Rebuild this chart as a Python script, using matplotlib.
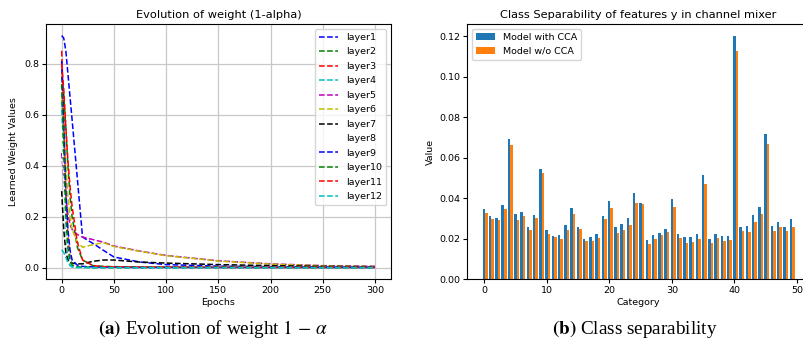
#!/usr/bin/env python3
"""Two-panel figure: weight evolution per layer and class separability bars."""

import matplotlib

matplotlib.use("Agg")
import matplotlib.pyplot as plt
import numpy as np

# ---- panel (a): learned weight (1-alpha) per layer ----
EPOCHS = [0, 2, 4, 6, 8, 10, 15, 20, 30, 40, 50, 75, 100, 150, 200, 250, 300]

LAYER1 = [0.91, 0.90, 0.85, 0.76, 0.67, 0.58, 0.35, 0.12, 0.095, 0.068, 0.042, 0.022, 0.012, 0.006, 0.004, 0.003, 0.003]
LAYER2 = [0.75, 0.68, 0.55, 0.40, 0.28, 0.20, 0.08, 0.03, 0.008, 0.005, 0.004, 0.003, 0.002, 0.002, 0.001, 0.001, 0.001]
LAYER3 = [0.85, 0.60, 0.30, 0.12, 0.04, 0.01, 0.003, 0.002, 0.001, 0.001, 0.001, 0.001, 0.001, 0.001, 0.001, 0.001, 0.001]
LAYER4 = [0.65, 0.40, 0.15, 0.05, 0.01, 0.003, 0.001, 0.001, 0.0, 0.0, 0.0, 0.0, 0.0, 0.0, 0.0, 0.0, 0.0]
LAYER5 = [0.45, 0.35, 0.27, 0.21, 0.17, 0.15, 0.13, 0.12, 0.11, 0.10, 0.085, 0.065, 0.048, 0.027, 0.015, 0.008, 0.005]
LAYER6 = [0.68, 0.55, 0.40, 0.28, 0.20, 0.15, 0.10, 0.08, 0.09, 0.098, 0.083, 0.064, 0.047, 0.026, 0.014, 0.007, 0.004]
LAYER7 = [0.30, 0.15, 0.06, 0.03, 0.02, 0.018, 0.015, 0.015, 0.025, 0.03, 0.03, 0.022, 0.018, 0.012, 0.008, 0.005, 0.004]
LAYER8 = [0.55, 0.35, 0.18, 0.08, 0.03, 0.01, 0.004, 0.002, 0.001, 0.001, 0.001, 0.001, 0.001, 0.001, 0.001, 0.001, 0.001]
LAYER9 = [0.81, 0.55, 0.30, 0.15, 0.07, 0.03, 0.01, 0.005, 0.003, 0.002, 0.002, 0.001, 0.001, 0.001, 0.001, 0.001, 0.001]
LAYER10 = [0.72, 0.45, 0.20, 0.08, 0.03, 0.01, 0.003, 0.002, 0.001, 0.001, 0.001, 0.001, 0.001, 0.001, 0.001, 0.001, 0.001]
LAYER11 = [0.80, 0.70, 0.55, 0.42, 0.32, 0.24, 0.10, 0.03, 0.008, 0.004, 0.003, 0.002, 0.002, 0.001, 0.001, 0.001, 0.001]
LAYER12 = [0.07, 0.06, 0.04, 0.02, 0.008, 0.003, 0.001, 0.001, 0.0, 0.0, 0.0, 0.0, 0.0, 0.0, 0.0, 0.0, 0.0]

LAYERS = [LAYER1, LAYER2, LAYER3, LAYER4, LAYER5, LAYER6,
          LAYER7, LAYER8, LAYER9, LAYER10, LAYER11, LAYER12]
LAYER_COLORS = ["b", "g", "r", "c", "m", "y", "k", "w", "b", "g", "r", "c"]

# ---- panel (b): class separability per category ----
WITH_CCA = [
    0.0348, 0.0312, 0.0304, 0.0369, 0.0691, 0.0320, 0.0330, 0.0256, 0.0315, 0.0542,
    0.0245, 0.0212, 0.0217, 0.0266, 0.0353, 0.0256, 0.0197, 0.0207, 0.0225, 0.0312,
    0.0384, 0.0256, 0.0273, 0.0300, 0.0424, 0.0378, 0.0194, 0.0217, 0.0228, 0.0246,
    0.0396, 0.0222, 0.0209, 0.0209, 0.0225, 0.0514, 0.0200, 0.0225, 0.0215, 0.0215,
    0.1200, 0.0259, 0.0263, 0.0317, 0.0358, 0.0719, 0.0263, 0.0284, 0.0259, 0.0297,
]
WITHOUT_CCA = [
    0.0328, 0.0297, 0.0291, 0.0348, 0.0662, 0.0291, 0.0310, 0.0243, 0.0302, 0.0525,
    0.0225, 0.0209, 0.0199, 0.0243, 0.0320, 0.0246, 0.0189, 0.0190, 0.0204, 0.0297,
    0.0351, 0.0228, 0.0241, 0.0266, 0.0378, 0.0371, 0.0174, 0.0197, 0.0218, 0.0232,
    0.0358, 0.0202, 0.0181, 0.0184, 0.0197, 0.0468, 0.0181, 0.0204, 0.0190, 0.0195,
    0.1125, 0.0238, 0.0235, 0.0284, 0.0323, 0.0668, 0.0238, 0.0256, 0.0238, 0.0259,
]

FS = 6.8


def main() -> None:
    plt.rcParams.update({
        "font.family": "DejaVu Sans",
        "font.size": FS,
        "mathtext.fontset": "stix",
        "axes.linewidth": 0.8,
    })
    fig = plt.figure(figsize=(8.04, 3.41), dpi=100)

    # (a) weight evolution
    ax1 = fig.add_axes([0.0572, 0.181, 0.4287, 0.7487])
    for i, (vals, col) in enumerate(zip(LAYERS, LAYER_COLORS)):
        ax1.plot(EPOCHS, vals, "--", color=col, linewidth=1.1, label=f"layer{i + 1}")
    ax1.set_title("Evolution of weight (1-alpha)", fontsize=8.2, pad=4)
    ax1.set_xlabel("Epochs", fontsize=FS, labelpad=2)
    ax1.set_ylabel("Learned Weight Values", fontsize=FS, labelpad=4)
    ax1.set_xticks([0, 50, 100, 150, 200, 250, 300])
    ax1.set_yticks([0.0, 0.2, 0.4, 0.6, 0.8])
    ax1.grid(True, color="#c8c8c8", linewidth=0.9)
    ax1.tick_params(labelsize=FS, length=3, pad=2)
    ax1.legend(loc="upper right", fontsize=FS, labelspacing=0.58,
               handlelength=2.0, borderpad=0.45)

    # (b) class separability
    ax2 = fig.add_axes([0.581, 0.181, 0.4266, 0.7487])
    cats = np.arange(len(WITH_CCA))
    width = 0.4
    ax2.bar(cats, WITH_CCA, width, color="#1f77b4", label="Model with CCA")
    ax2.bar(cats + width, WITHOUT_CCA, width, color="#ff7f0e", label="Model w/o CCA")
    ax2.set_title("Class Separability of features y in channel mixer", fontsize=8.2, pad=4)
    ax2.set_xlabel("Category", fontsize=FS, labelpad=2)
    ax2.set_ylabel("Value", fontsize=FS, labelpad=3)
    ax2.set_xticks([0, 10, 20, 30, 40, 50])
    ax2.set_yticks([0.0, 0.02, 0.04, 0.06, 0.08, 0.10, 0.12])
    ax2.tick_params(labelsize=FS, length=3, pad=2)
    ax2.legend(loc="upper left", fontsize=FS, borderpad=0.45, handlelength=2.0)

    # captions
    cap = dict(family="Liberation Serif", fontsize=13.8, ha="center", va="center")
    fig.text(0.265, 0.035, r"$\mathbf{(a)}$ Evolution of weight $1\,-\,\alpha$", **cap)
    fig.text(0.789, 0.035, r"$\mathbf{(b)}$ Class separability", **cap)

    fig.savefig("out.png", dpi=100)


if __name__ == "__main__":
    main()
